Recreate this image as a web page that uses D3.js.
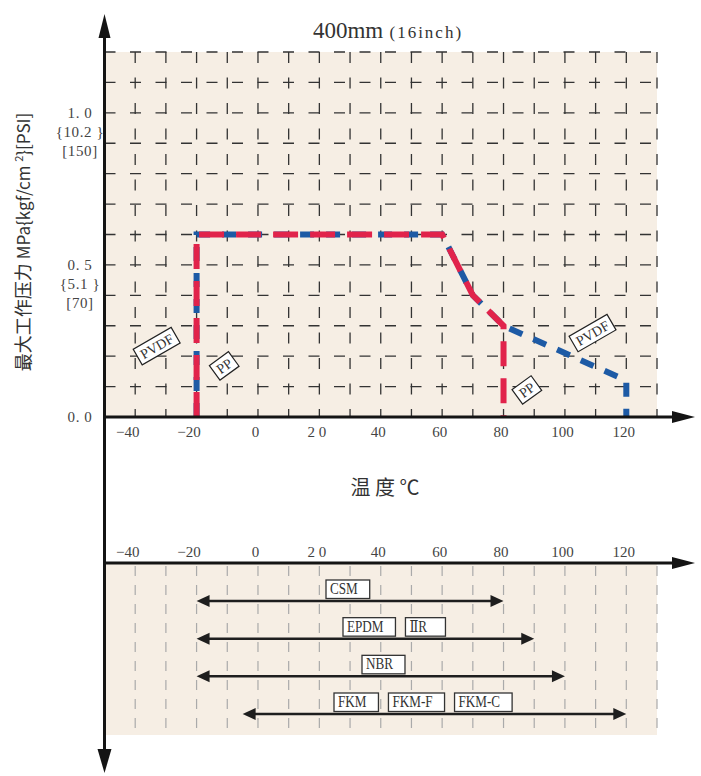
<!DOCTYPE html>
<html>
<head>
<meta charset="utf-8">
<script src="https://cdn.jsdelivr.net/npm/d3@7"></script>
<style>
body { margin: 0; background: #fff; }
svg { display: block; }
</style>
</head>
<body>
<div id="chart"></div>
<script>
// temperature axis (shared by both panels)
const tempTicks = [-40, -20, 0, 20, 40, 60, 80, 100, 120];
const tempTickLabels = ["−40", "−20", "0", "2 0", "40", "60", "80", "100", "120"];
const gridTemps = [-40, -30, -20, -10, 0, 10, 20, 30, 40, 50, 60, 70, 80, 90, 100, 110, 120, 130];

// pressure axis
const pressTicks = [0, 0.5, 1.0];
const pressTickLabels = [["0. 0"], ["0. 5", "{5.1 }", "[70]"], ["1. 0", "{10.2 }", "[150]"]];
const pressGrid = [0.1, 0.2, 0.3, 0.4, 0.5, 0.6, 0.7, 0.8, 0.9, 1.0, 1.1, 1.2];

// pressure-temperature curves
const ppTemp = [-20, -20, 60, 70, 80, 80];
const ppPress = [0, 0.6, 0.6, 0.4, 0.3, 0];
const pvdfTemp = [-20, -20, 60, 70, 80, 120, 120];
const pvdfPress = [0, 0.6, 0.6, 0.4, 0.3, 0.12, 0];

// seal material temperature ranges
const sealNames = [["CSM"], ["EPDM", "ⅡR"], ["NBR"], ["FKM", "FKM-F", "FKM-C"]];
const sealMin = [-20, -20, -20, -5];
const sealMax = [80, 90, 100, 120];

const svgWidth = 701;
const svgHeight = 776;

const svg = d3.select("#chart")
    .append("svg")
    .attr("width", svgWidth)
    .attr("height", svgHeight);

const serif = "'Liberation Serif', 'DejaVu Serif', serif";
const sans = "'Noto Sans CJK SC', 'Noto Sans', sans-serif";
const shade = "#f6eee4";

// scales
const x = d3.scaleLinear().domain([-50, 130]).range([104.5, 657]);
const y = d3.scaleLinear().domain([0, 1.2]).range([417, 52]);
const topAxisY = y(0);
const botAxisY = 563;
const botBottom = 735;
const rowY = d3.scaleLinear().domain([0, sealNames.length - 1]).range([601, 714]);

// ---- top panel background + grid
svg.append("rect")
    .attr("x", x(-50)).attr("y", y(1.2))
    .attr("width", x(130) - x(-50)).attr("height", y(0) - y(1.2))
    .attr("fill", shade);

const grid = svg.append("g")
    .attr("stroke", "#333")
    .attr("stroke-width", 1.3)
    .attr("stroke-dasharray", "11,14.5");

grid.selectAll(".vgrid")
    .data(gridTemps)
    .enter()
    .append("line")
    .attr("x1", d => x(d)).attr("x2", d => x(d))
    .attr("y1", y(1.2)).attr("y2", y(0));

grid.selectAll(".hgrid")
    .data(pressGrid)
    .enter()
    .append("line")
    .attr("x1", x(-50)).attr("x2", x(130))
    .attr("y1", d => y(d)).attr("y2", d => y(d));

// ---- bottom panel background + grid
svg.append("rect")
    .attr("x", x(-50)).attr("y", botAxisY)
    .attr("width", x(130) - x(-50)).attr("height", botBottom - botAxisY)
    .attr("fill", shade);

svg.append("g")
    .attr("stroke", "#aaa")
    .attr("stroke-width", 1.2)
    .attr("stroke-dasharray", "10,9")
    .selectAll("line")
    .data(gridTemps)
    .enter()
    .append("line")
    .attr("x1", d => x(d)).attr("x2", d => x(d))
    .attr("y1", botAxisY + 3).attr("y2", botBottom);

// ---- curves
const line = d3.line()
    .x(d => x(d[0]))
    .y(d => y(d[1]));

svg.append("path")
    .datum(pvdfTemp.map((t, i) => [t, pvdfPress[i]]))
    .attr("d", line)
    .attr("fill", "none")
    .attr("stroke", "#1d5aa5")
    .attr("stroke-width", 6)
    .attr("stroke-dasharray", "14,12");

svg.append("path")
    .datum(ppTemp.map((t, i) => [t, ppPress[i]]))
    .attr("d", line)
    .attr("fill", "none")
    .attr("stroke", "#e1234b")
    .attr("stroke-width", 6)
    .attr("stroke-dasharray", "25,12");

// curve labels (rotated boxes)
const curveLabels = [
    { text: "PVDF", t: -33, p: 0.233, angle: -30 },
    { text: "PP", t: -11, p: 0.168, angle: -36 },
    { text: "PVDF", t: 109, p: 0.276, angle: -30 },
    { text: "PP", t: 87.6, p: 0.089, angle: -36 }
];

curveLabels.forEach(l => {
    const g = svg.append("g")
        .attr("transform", `translate(${x(l.t)}, ${y(l.p)}) rotate(${l.angle})`);
    const rect = g.append("rect").attr("fill", "#fff").attr("stroke", "#222").attr("stroke-width", 1.2);
    const txt = g.append("text")
        .attr("text-anchor", "middle")
        .attr("y", 5)
        .attr("font-family", serif)
        .attr("font-size", "14px")
        .attr("fill", "#333")
        .text(l.text);
    const w = txt.node().getComputedTextLength() + 8;
    rect.attr("x", -w / 2).attr("y", -9).attr("width", w).attr("height", 18);
});

// ---- axes lines and arrowheads
const axisColor = "#141414";

svg.append("line")
    .attr("x1", x(-50)).attr("x2", x(-50))
    .attr("y1", 36).attr("y2", 752)
    .attr("stroke", axisColor).attr("stroke-width", 3);

[topAxisY, botAxisY].forEach(yy => {
    svg.append("line")
        .attr("x1", x(-50)).attr("x2", 674)
        .attr("y1", yy).attr("y2", yy)
        .attr("stroke", axisColor).attr("stroke-width", 3);
    svg.append("path")
        .attr("d", `M695,${yy} L672,${yy - 6} L672,${yy + 6} Z`)
        .attr("fill", axisColor);
});

svg.append("path")
    .attr("d", `M${x(-50)},14 L${x(-50) - 6},38 L${x(-50) + 6},38 Z`)
    .attr("fill", axisColor);
svg.append("path")
    .attr("d", `M${x(-50)},773 L${x(-50) - 7},749 L${x(-50) + 7},749 Z`)
    .attr("fill", axisColor);

// ---- tick labels
function styleTicks(g) {
    g.select(".domain").remove();
    g.selectAll("text")
        .attr("font-family", serif)
        .attr("font-size", "15px")
        .attr("fill", "#444")
        .attr("x", d => d < 0 ? -8 : -3);
}

const topAxis = d3.axisBottom(x)
    .tickValues(tempTicks)
    .tickFormat((d, i) => tempTickLabels[i])
    .tickSize(0)
    .tickPadding(9.5);

svg.append("g")
    .attr("transform", `translate(0, ${topAxisY})`)
    .call(topAxis)
    .call(styleTicks);

const botAxis = d3.axisTop(x)
    .tickValues(tempTicks)
    .tickFormat((d, i) => tempTickLabels[i])
    .tickSize(0)
    .tickPadding(6);

svg.append("g")
    .attr("transform", `translate(0, ${botAxisY})`)
    .call(botAxis)
    .call(styleTicks);

// pressure labels (three units stacked)
pressTicks.forEach((v, i) => {
    const t = svg.append("text")
        .attr("text-anchor", "middle")
        .attr("font-family", serif)
        .attr("font-size", "15px")
        .attr("letter-spacing", "0.6px")
        .attr("fill", "#444");
    pressTickLabels[i].forEach((s, j) => {
        t.append("tspan")
            .attr("x", 80)
            .attr("y", y(v) + 5 + j * 19)
            .text(s);
    });
});

// ---- titles
const title = svg.append("text")
    .attr("x", 388)
    .attr("y", 38)
    .attr("text-anchor", "middle")
    .attr("font-family", serif)
    .attr("fill", "#333");
title.append("tspan").attr("font-size", "23px").text("400mm");
title.append("tspan").attr("font-size", "17px").attr("letter-spacing", "2px").text(" (16inch)");

const yTitle = svg.append("text")
    .attr("transform", "translate(30, 242) rotate(-90)")
    .attr("text-anchor", "middle")
    .attr("font-family", sans)
    .attr("font-size", "17px")
    .attr("fill", "#333");
yTitle.append("tspan").attr("font-size", "18px").text("最大工作压力 ");
yTitle.append("tspan").text("MPa{kgf/cm ");
yTitle.append("tspan").attr("font-size", "11px").attr("dy", -7).text("2");
yTitle.append("tspan").attr("dy", 7).text("}[PSI]");

svg.append("text")
    .attr("x", 385)
    .attr("y", 495)
    .attr("text-anchor", "middle")
    .attr("font-family", sans)
    .attr("font-size", "20px")
    .attr("fill", "#333")
    .text("温 度 ℃");

// ---- seal ranges (double arrows with label boxes)
const boxStart = [326, 343, 362, 334];

sealNames.forEach((names, i) => {
    const yy = rowY(i);
    const x0 = x(sealMin[i]);
    const x1 = x(sealMax[i]);
    svg.append("line")
        .attr("x1", x0 + 10).attr("x2", x1 - 10)
        .attr("y1", yy).attr("y2", yy)
        .attr("stroke", "#1e1e1e").attr("stroke-width", 2.5);
    svg.append("path")
        .attr("d", `M${x0},${yy} L${x0 + 13},${yy - 6} L${x0 + 13},${yy + 6} Z`)
        .attr("fill", "#1e1e1e");
    svg.append("path")
        .attr("d", `M${x1},${yy} L${x1 - 13},${yy - 6} L${x1 - 13},${yy + 6} Z`)
        .attr("fill", "#1e1e1e");

    let bx = boxStart[i];
    names.forEach(n => {
        const rect = svg.append("rect")
            .attr("fill", "#fff").attr("stroke", "#333").attr("stroke-width", 1.3);
        const txt = svg.append("text")
            .attr("x", bx + 4)
            .attr("y", yy - 7)
            .attr("font-family", serif)
            .attr("font-size", "16px")
            .attr("fill", "#333")
            .text(n);
        const natural = txt.node().getComputedTextLength();
        txt.attr("textLength", natural * 0.82).attr("lengthAdjust", "spacingAndGlyphs");
        const w = Math.max(40, natural * 0.82 + 16);
        rect.attr("x", bx).attr("y", yy - 21).attr("width", w).attr("height", 18.5);
        bx += w + 10;
    });
});
</script>
</body>
</html>
